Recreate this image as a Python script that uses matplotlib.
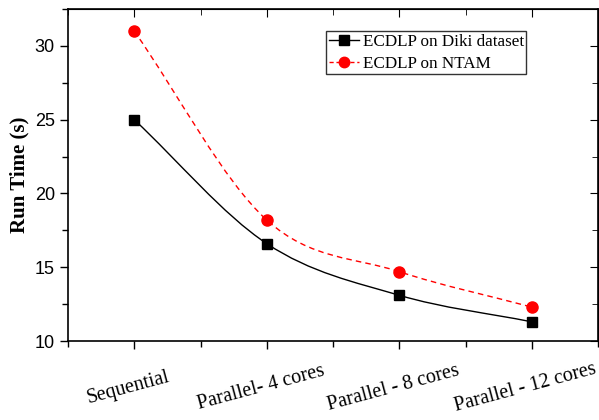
import numpy as np
import matplotlib
matplotlib.use("Agg")
import matplotlib.pyplot as plt
from matplotlib.path import Path
from matplotlib.patches import PathPatch
from matplotlib.ticker import MultipleLocator
from matplotlib.lines import Line2D

categories = ['Sequential', 'Parallel- 4 cores', 'Parallel - 8 cores', 'Parallel - 12 cores']
diki_times = [25.0, 16.6, 13.1, 11.3]
ntam_times = [31.0, 18.2, 14.7, 12.3]


def smooth_path(x, y):
    # Catmull-Rom curve turned into cubic Bezier segments
    x = np.asarray(x, float)
    y = np.asarray(y, float)
    px = np.concatenate([[2 * x[0] - x[1]], x, [2 * x[-1] - x[-2]]])
    py = np.concatenate([[2 * y[0] - y[1]], y, [2 * y[-1] - y[-2]]])
    verts = [(x[0], y[0])]
    codes = [Path.MOVETO]
    for i in range(1, len(px) - 2):
        c1 = (px[i] + (px[i + 1] - px[i - 1]) / 6, py[i] + (py[i + 1] - py[i - 1]) / 6)
        c2 = (px[i + 1] - (px[i + 2] - px[i]) / 6, py[i + 1] - (py[i + 2] - py[i]) / 6)
        verts += [c1, c2, (px[i + 1], py[i + 1])]
        codes += [Path.CURVE4] * 3
    return Path(verts, codes)


fig = plt.figure(figsize=(5.99, 4.2), dpi=100)
ax = fig.add_axes([68 / 599, 1 - 341 / 420, 530 / 599, 332 / 420])

x = np.arange(1, len(categories) + 1)

ax.add_patch(PathPatch(smooth_path(x, diki_times), fill=False, edgecolor='black', lw=1.0))
ax.add_patch(PathPatch(smooth_path(x, ntam_times), fill=False, edgecolor='red', lw=1.0,
                       linestyle=(0, (4, 3))))
ax.plot(x, diki_times, 's', color='black', ms=7.5, zorder=3)
ax.plot(x, ntam_times, 'o', color='red', ms=8, zorder=3)

ax.set_xlim(0.5, 4.5)
ax.set_ylim(10, 32.5)
ax.xaxis.set_minor_locator(MultipleLocator(0.5))
ax.yaxis.set_major_locator(MultipleLocator(5))
ax.yaxis.set_minor_locator(MultipleLocator(2.5))
ax.set_xticks(x)
ax.set_xticklabels([])
# category labels, tilted, centred a little left of each tick
for xi, cat in zip(x, categories):
    ax.annotate(cat, xy=(xi, 0), xycoords=('data', 'axes fraction'),
                xytext=(-4.3, -33.8), textcoords='offset points',
                ha='center', va='center', rotation=15, rotation_mode='anchor',
                fontfamily='Liberation Serif', fontsize=14.5)
for lab in ax.get_yticklabels():
    lab.set_fontfamily('Liberation Sans')
    lab.set_fontsize(13)
ax.tick_params(which='both', direction='out', width=1)
ax.tick_params(which='major', length=6)
ax.tick_params(which='minor', length=4)

# mirrored inward ticks on top and right
top = ax.secondary_xaxis('top')
top.xaxis.set_major_locator(MultipleLocator(1))
top.xaxis.set_minor_locator(MultipleLocator(0.5))
top.tick_params(which='both', direction='in', labeltop=False)
top.tick_params(which='major', length=6)
top.tick_params(which='minor', length=4)
right = ax.secondary_yaxis('right')
right.yaxis.set_major_locator(MultipleLocator(5))
right.yaxis.set_minor_locator(MultipleLocator(2.5))
right.tick_params(which='both', direction='in', labelright=False)
right.tick_params(which='major', length=6)
right.tick_params(which='minor', length=4)

for s in ax.spines.values():
    s.set_linewidth(1.2)

ax.set_ylabel('Run Time (s)', fontfamily='Liberation Serif', fontweight='bold', fontsize=15, labelpad=4)

handles = [
    Line2D([], [], color='black', marker='s', ms=7, lw=1.0),
    Line2D([], [], color='red', marker='o', ms=7.5, lw=1.0, linestyle=(0, (3, 2))),
]
leg = ax.legend(handles, ['ECDLP on Diki dataset', 'ECDLP on NTAM'],
                loc='upper left', bbox_to_anchor=(258 / 530, 1 - 22 / 332),
                prop={'family': 'Liberation Serif', 'size': 12.3},
                frameon=True, fancybox=False, edgecolor='black', handlelength=1.8,
                handletextpad=0.2, borderpad=0.15, labelspacing=0.35, borderaxespad=0)
leg.get_frame().set_linewidth(1.0)

fig.savefig('out.png', dpi=100)
